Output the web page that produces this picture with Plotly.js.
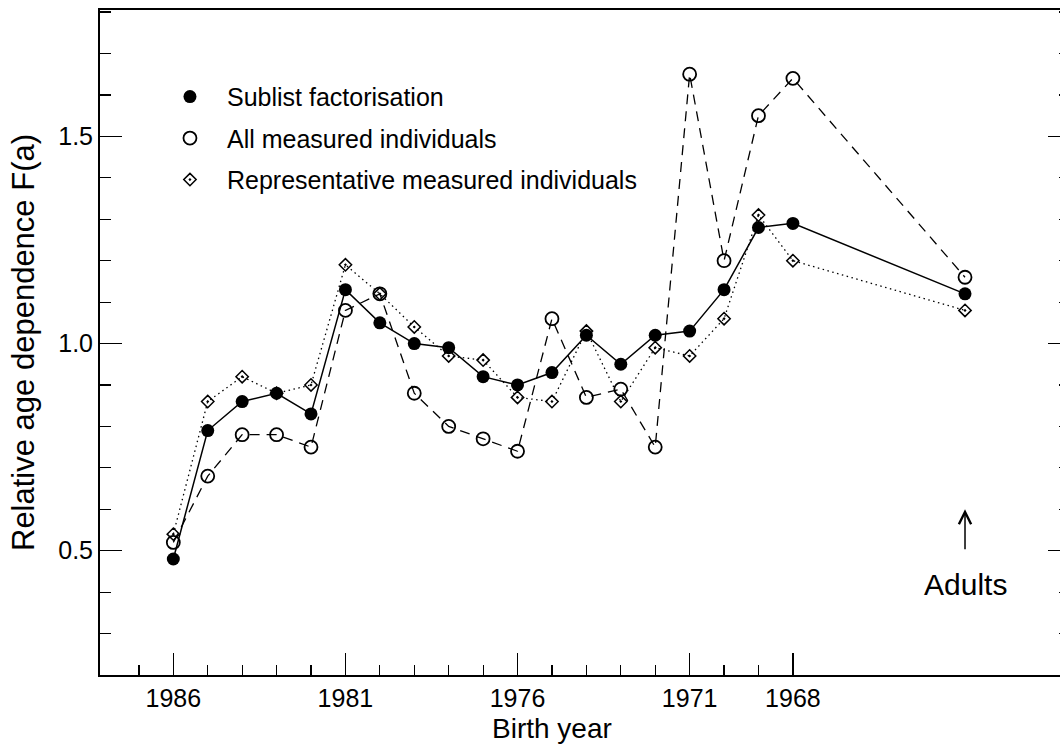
<!DOCTYPE html>
<html>
<head>
<meta charset="utf-8">
<script src="https://cdn.plot.ly/plotly-3.0.1.min.js"></script>
<style>
html, body { margin: 0; padding: 0; overflow: hidden; background: #fff; }
#chart { width: 1072px; height: 747px; }
</style>
</head>
<body>
<div id="chart"></div>
<script>
// Birth years (x axis reversed), plus position used for the "Adults" group
const birthYears = [1986, 1985, 1984, 1983, 1982, 1981, 1980, 1979, 1978, 1977,
                    1976, 1975, 1974, 1973, 1972, 1971, 1970, 1969, 1968];
const adultsPosition = 1963;
const xPositions = birthYears.concat([adultsPosition]);

// Relative age dependence F(a)
const sublistFactorisation = [0.48, 0.79, 0.86, 0.88, 0.83, 1.13, 1.05, 1.00, 0.99, 0.92,
                              0.90, 0.93, 1.02, 0.95, 1.02, 1.03, 1.13, 1.28, 1.29, 1.12];
const allMeasured = [0.52, 0.68, 0.78, 0.78, 0.75, 1.08, 1.12, 0.88, 0.80, 0.77,
                     0.74, 1.06, 0.87, 0.89, 0.75, 1.65, 1.20, 1.55, 1.64, 1.16];
const representativeMeasured = [0.54, 0.86, 0.92, 0.88, 0.90, 1.19, 1.12, 1.04, 0.97, 0.96,
                                0.87, 0.86, 1.03, 0.86, 0.99, 0.97, 1.06, 1.31, 1.20, 1.08];

const seriesNames = ['Sublist factorisation', 'All measured individuals', 'Representative measured individuals'];

const xMajorTicks = [1986, 1981, 1976, 1971, 1968];
const xMajorLabels = ['1986', '1981', '1976', '1971', '1968'];
const xMinorTicks = [1987, 1985, 1984, 1983, 1982, 1980, 1979, 1978, 1977, 1975, 1974, 1973, 1972, 1970, 1969];
const yMajorTicks = [0.5, 1.0, 1.5];
const yMajorLabels = ['0.5', '1.0', '1.5'];

const FONT = '"Liberation Sans", Arial, Helvetica, sans-serif';
const BLACK = '#000000';

const circleMarker = { symbol: 'circle', size: 13, color: BLACK };
const openCircleMarker = { symbol: 'circle-open', size: 13, color: BLACK, line: { width: 1.8, color: BLACK } };
const diamondMarker = { symbol: 'diamond-open-dot', size: 9.5, color: BLACK, line: { width: 1.5, color: BLACK } };

const traces = [
  {
    x: xPositions, y: representativeMeasured, type: 'scatter', mode: 'lines+markers',
    line: { color: BLACK, width: 1.3, dash: '1.5px,3.5px' },
    marker: diamondMarker, showlegend: false, cliponaxis: false
  },
  {
    x: xPositions, y: allMeasured, type: 'scatter', mode: 'lines+markers',
    line: { color: BLACK, width: 1.3, dash: '10px,7px' },
    marker: openCircleMarker, showlegend: false, cliponaxis: false
  },
  {
    x: xPositions, y: sublistFactorisation, type: 'scatter', mode: 'lines+markers',
    line: { color: BLACK, width: 1.5 },
    marker: circleMarker, showlegend: false, cliponaxis: false
  },
  // legend entries (marker only)
  { x: [null], y: [null], type: 'scatter', mode: 'markers', name: seriesNames[0], marker: circleMarker, legendgroup: 'a' },
  { x: [null], y: [null], type: 'scatter', mode: 'markers', name: seriesNames[1], marker: openCircleMarker, legendgroup: 'b' },
  { x: [null], y: [null], type: 'scatter', mode: 'markers', name: seriesNames[2], marker: diamondMarker, legendgroup: 'c' }
];

const layout = {
  width: 1072,
  height: 747,
  margin: { l: 100, r: 2, t: 10, b: 72 },
  paper_bgcolor: '#ffffff',
  plot_bgcolor: '#ffffff',
  font: { family: FONT, size: 25, color: BLACK },
  showlegend: true,
  legend: {
    x: 0.0546, y: 0.904, xanchor: 'left', yanchor: 'top',
    bgcolor: 'rgba(0,0,0,0)', borderwidth: 0,
    font: { family: FONT, size: 25, color: BLACK },
    itemwidth: 64, tracegroupgap: 6, traceorder: 'grouped'
  },
  xaxis: {
    range: [1988.13, 1959.95],
    showgrid: false, zeroline: false,
    showline: true, linecolor: BLACK, linewidth: 2, mirror: true,
    ticks: 'inside', ticklen: 22, tickwidth: 1.5, tickcolor: BLACK,
    tickmode: 'array', tickvals: xMajorTicks, ticktext: xMajorLabels,
    ticklabelstandoff: 0,
    minor: { tickmode: 'array', tickvals: xMinorTicks, ticks: 'inside', ticklen: 10, tickwidth: 1.2, tickcolor: BLACK, showgrid: false },
    tickfont: { family: FONT, size: 25, color: BLACK },
    automargin: false
  },
  yaxis: {
    range: [0.2, 1.805],
    showgrid: false, zeroline: false,
    showline: true, linecolor: BLACK, linewidth: 2, mirror: 'ticks',
    ticks: 'inside', ticklen: 22, tickwidth: 1.5, tickcolor: BLACK,
    tickmode: 'array', tickvals: yMajorTicks, ticktext: yMajorLabels,
    ticklabelstandoff: 0,
    minor: { tick0: 0, dtick: 0.1, ticks: 'inside', ticklen: 11, tickwidth: 1.2, tickcolor: BLACK, showgrid: false },
    tickfont: { family: FONT, size: 25, color: BLACK },
    title: { text: 'Relative age dependence F(a)', font: { family: FONT, size: 31, color: BLACK }, standoff: 14 },
    automargin: false
  },
  annotations: [
    {
      x: 0.466, y: -0.0812, xref: 'paper', yref: 'paper',
      text: 'Birth year', showarrow: false, xanchor: 'center', yanchor: 'middle',
      font: { family: FONT, size: 28, color: BLACK }
    },
    {
      x: adultsPosition, y: 0.6, xref: 'x', yref: 'y',
      ax: adultsPosition, ay: 0.5, axref: 'x', ayref: 'y',
      text: '', showarrow: true, arrowhead: 5, arrowsize: 1.6, arrowwidth: 1.5, arrowcolor: BLACK
    },
    {
      x: adultsPosition, y: 0.418, xref: 'x', yref: 'y',
      text: 'Adults', showarrow: false,
      font: { family: FONT, size: 30, color: BLACK }
    }
  ]
};

Plotly.newPlot('chart', traces, layout, { displayModeBar: false, staticPlot: true });
</script>
</body>
</html>
